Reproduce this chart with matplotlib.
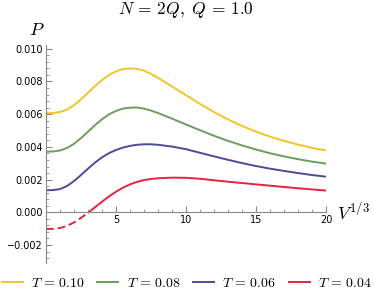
import numpy as np
import matplotlib.pyplot as plt
from matplotlib.ticker import MultipleLocator, FixedLocator

plt.rcParams["mathtext.fontset"] = "cm"

# values
v = [0, 0.5, 1, 1.5, 2, 2.5, 3, 3.5, 4, 4.5, 5, 5.5, 6, 6.5, 7, 7.5, 8,
     9, 10, 11, 12, 13, 14, 15, 16, 17, 18, 19, 20]
p_010 = [0.00606, 0.00607, 0.00613, 0.00628, 0.00655, 0.00691, 0.00731, 0.00772,
         0.00809, 0.0084, 0.00862, 0.00876, 0.0088, 0.00877, 0.00866, 0.00846,
         0.00822, 0.0077, 0.00716, 0.00663, 0.00613, 0.00568, 0.00528, 0.00493,
         0.00463, 0.00437, 0.00414, 0.00394, 0.00378]
p_008 = [0.00371, 0.00372, 0.00378, 0.00393, 0.00419, 0.00454, 0.00493, 0.00533,
         0.00569, 0.00599, 0.0062, 0.00634, 0.0064, 0.00641, 0.00634, 0.00622,
         0.00607, 0.00573, 0.00537, 0.00502, 0.00468, 0.00437, 0.00409, 0.00384,
         0.00361, 0.00342, 0.00325, 0.0031, 0.00298]
p_006 = [0.00135, 0.00136, 0.00142, 0.00161, 0.00191, 0.00228, 0.00267, 0.00304,
         0.00336, 0.00362, 0.00381, 0.00396, 0.00406, 0.00413, 0.00416, 0.00416,
         0.00413, 0.00402, 0.00386, 0.00364, 0.00342, 0.00321, 0.00301, 0.00283,
         0.00267, 0.00253, 0.0024, 0.00228, 0.00218]
p_004 = [-0.00102, -0.00101, -0.00096, -0.00083, -0.00062, -0.00034, -0.00003,
         0.00031, 0.00065, 0.00097, 0.00126, 0.00151, 0.00171, 0.00186, 0.00197,
         0.00204, 0.00208, 0.00212, 0.00211, 0.00205, 0.00196, 0.00187, 0.00179,
         0.00171, 0.00163, 0.00155, 0.00147, 0.0014, 0.00133]
labels = ["0.10", "0.08", "0.06", "0.04"]
colors = ["#f2c42a", "#6b9d5e", "#4d4b95", "#e8213f"]

fig = plt.figure(figsize=(3.74, 2.89), dpi=100)
ax = fig.add_axes([0.123, 0.091, 0.7487, 0.7516])

handles = []
for p, lab, c in zip([p_010, p_008, p_006], labels[:3], colors[:3]):
    h, = ax.plot(v, p, color=c, lw=1.4, label=r"$T\,=\,%s$" % lab)
    handles.append(h)

# red curve: dashed where P < 0
x = np.array(v)
y = np.array(p_004)
k = np.argmax(y > 0)
xc = x[k - 1] - y[k - 1] * (x[k] - x[k - 1]) / (y[k] - y[k - 1])
ax.plot(list(x[:k]) + [xc], list(y[:k]) + [0], color=colors[3], lw=1.4,
        dashes=(4, 2))
h, = ax.plot([xc] + list(x[k:]), [0] + list(y[k:]), color=colors[3], lw=1.4,
             label=r"$T\,=\,%s$" % labels[3])
handles.append(h)

ax.set_xlim(0, 20)
ax.set_ylim(-0.00308, 0.0102)
ax.spines["top"].set_visible(False)
ax.spines["right"].set_visible(False)
ax.spines["left"].set_position(("data", 0))
ax.spines["bottom"].set_position(("data", 0))
for s in ["left", "bottom"]:
    ax.spines[s].set_color("#888888")
    ax.spines[s].set_linewidth(0.8)

ax.xaxis.set_major_locator(FixedLocator([5, 10, 15, 20]))
ax.xaxis.set_minor_locator(MultipleLocator(1))
ax.yaxis.set_major_locator(MultipleLocator(0.002))
ax.yaxis.set_minor_locator(MultipleLocator(0.0004))
ax.yaxis.set_major_formatter(lambda val, pos: ("%.3f" % val).replace("-", "\u2212"))
ax.tick_params(axis="both", which="both", direction="in", color="#888888",
               labelsize=7, pad=2)
ax.tick_params(which="major", length=4, width=0.8)
ax.tick_params(which="minor", length=2, width=0.6)

ax.text(-0.1, 0.0106, r"$P$", fontsize=13, ha="right", va="bottom")
ax.text(20.8, 0.0, r"$V^{1/3}$", fontsize=13, ha="left", va="center")
fig.text(0.497, 0.965, r"$N\,=\,2Q,\ Q\,=\,1.0$", fontsize=12.5,
         ha="center", va="center")

fig.legend(handles=handles, loc="center", bbox_to_anchor=(0.5, 0.022), ncol=4,
           frameon=False, fontsize=10, handlelength=1.5, handletextpad=0.6,
           columnspacing=0.9, borderaxespad=0, borderpad=0)

fig.savefig("out.png", dpi=100)
